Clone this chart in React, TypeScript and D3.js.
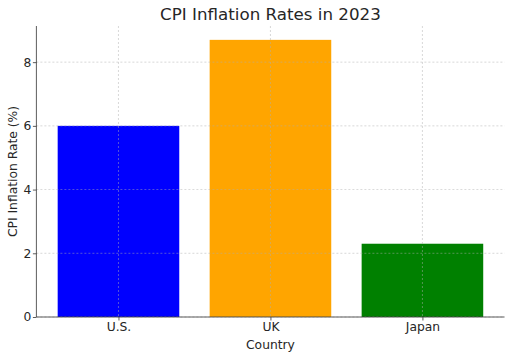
import React from "react";
import * as d3 from "d3";

const countries = ["U.S.", "UK", "Japan"];
const rates = [6.0, 8.7, 2.3];
const barColors = ["#0000ff", "#ffa500", "#008000"];
const yTicks = [0, 2, 4, 6, 8];

const W = 512;
const H = 358;
const margin = { top: 26, right: 7.5, bottom: 41, left: 36.4 };
const FONT = "DejaVu Sans, sans-serif";

const App = () => {
  const ref = React.useRef<SVGSVGElement>(null);

  React.useEffect(() => {
    const svg = d3.select(ref.current);
    svg.selectAll("*").remove();

    const width = W - margin.left - margin.right;
    const height = H - margin.top - margin.bottom;

    // linear x mimicking matplotlib's bar layout (width 0.8, 5% margins)
    const x = d3.scaleLinear().domain([-0.54, 2.54]).range([0, width]);
    const y = d3.scaleLinear().domain([0, 8.7 * 1.05]).range([height, 0]);

    const g = svg.append("g")
      .attr("transform", "translate(" + margin.left + "," + margin.top + ")");

    g.selectAll(".bar")
      .data(rates)
      .enter()
      .append("rect")
      .attr("class", "bar")
      .attr("x", (d, i) => x(i - 0.4))
      .attr("width", x(0.8) - x(0))
      .attr("y", (d) => y(d))
      .attr("height", (d) => y(0) - y(d))
      .style("fill", (d, i) => barColors[i]);

    // grid, on top of bars
    g.selectAll(".hgrid")
      .data(yTicks)
      .enter()
      .append("line")
      .attr("x1", 0).attr("x2", width)
      .attr("y1", (d) => y(d)).attr("y2", (d) => y(d))
      .style("stroke", "#b0b0b0")
      .style("stroke-dasharray", "2,2")
      .style("stroke-width", 0.8)
      .style("opacity", 0.6);

    g.selectAll(".vgrid")
      .data(countries)
      .enter()
      .append("line")
      .attr("x1", (d, i) => x(i)).attr("x2", (d, i) => x(i))
      .attr("y1", 0).attr("y2", height)
      .style("stroke", "#b0b0b0")
      .style("stroke-dasharray", "2,2")
      .style("stroke-width", 0.8)
      .style("opacity", 0.6);

    // y axis
    const yAxis = g.append("g")
      .call(d3.axisLeft(y).tickValues(yTicks).tickSize(3.5).tickPadding(1.5).tickFormat(d3.format("d")));
    yAxis.select(".domain").attr("d", "M0," + height + "V0").style("stroke", "#333").style("stroke-width", 0.8);
    yAxis.selectAll(".tick line").style("stroke", "#333").style("stroke-width", 0.8);
    yAxis.selectAll("text").style("font-family", FONT).style("font-size", "12.3px").style("fill", "#262626");

    // x axis
    const xAxis = g.append("g")
      .attr("transform", "translate(0," + height + ")")
      .call(d3.axisBottom(x).tickValues([0, 1, 2]).tickSize(3.5).tickPadding(1.5)
        .tickFormat((d) => countries[+d]));
    xAxis.select(".domain").attr("d", "M0,0H" + width).style("stroke", "#333").style("stroke-width", 0.8);
    xAxis.selectAll(".tick line").style("stroke", "#333").style("stroke-width", 0.8);
    xAxis.selectAll("text").style("font-family", FONT).style("font-size", "12.3px").style("fill", "#262626");

    svg.append("text")
      .attr("x", margin.left + width / 2)
      .attr("y", 20)
      .attr("text-anchor", "middle")
      .style("font-family", FONT)
      .style("font-size", "16.7px")
      .style("fill", "#262626")
      .text("CPI Inflation Rates in 2023");

    svg.append("text")
      .attr("x", margin.left + width / 2)
      .attr("y", 348.5)
      .attr("text-anchor", "middle")
      .style("font-family", FONT)
      .style("font-size", "12.3px")
      .style("fill", "#262626")
      .text("Country");

    svg.append("text")
      .attr("transform", "translate(16.5," + (margin.top + height / 2) + ") rotate(-90)")
      .attr("text-anchor", "middle")
      .style("font-family", FONT)
      .style("font-size", "12.3px")
      .style("fill", "#262626")
      .text("CPI Inflation Rate (%)");
  }, []);

  return (
    <svg ref={ref} width={W} height={H}
      style={{ position: "absolute", left: 0, top: 0, background: "white" }} />
  );
};

export default App;
